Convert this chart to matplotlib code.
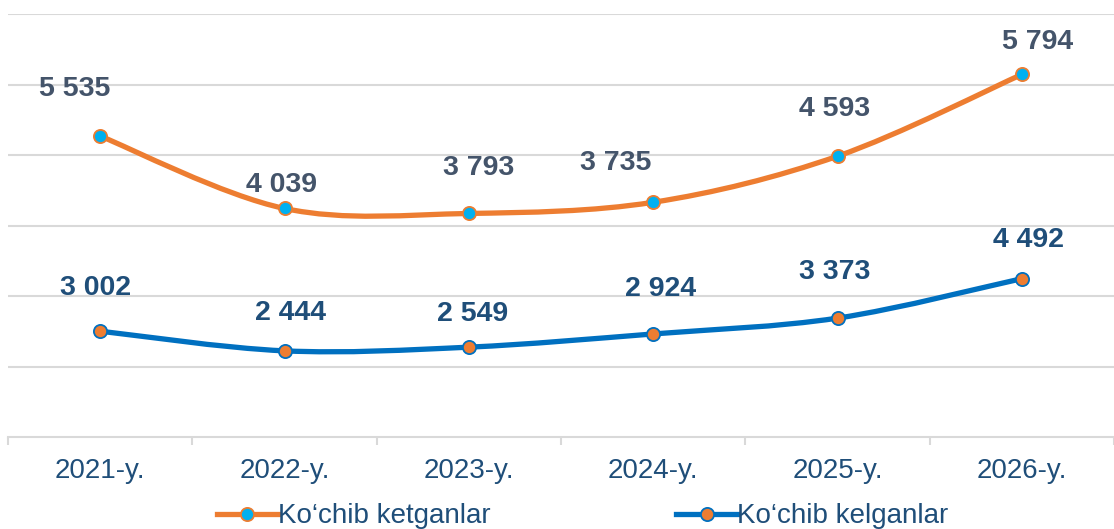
import numpy as np
import matplotlib.pyplot as plt
from matplotlib.path import Path
from matplotlib.patches import PathPatch
from matplotlib.lines import Line2D

plt.rcParams['font.family'] = ['Liberation Sans', 'DejaVu Sans']

# data
years = ['2021-y.', '2022-y.', '2023-y.', '2024-y.', '2025-y.', '2026-y.']
kelganlar = [3002, 2444, 2549, 2924, 3373, 4492]
ketganlar = [5535, 4039, 3793, 3735, 4593, 5794]
names = ['Ko\u2018chib ketganlar', 'Ko\u2018chib kelganlar']

# label offsets (points)
off_top = [(-18, 34), (-2, 17), (7, 33), (-27, 28), (-2, 34), (11, 23)]
off_bot = [(-3, 31), (4, 27), (3, 24), (5, 32), (-2, 33), (5, 28)]

orange = '#ED7D31'
blue = '#0070C0'
cyan = '#00B0F0'
grid_c = '#D9D9D9'


def smooth_path(xs, ys):
    # Excel-like smoothed line built from cubic Bezier segments
    pts = np.column_stack([xs, ys]).astype(float)
    n = len(pts)
    verts = [pts[0]]
    codes = [Path.MOVETO]
    for i in range(n - 1):
        p0 = pts[max(i - 1, 0)]
        p1 = pts[i]
        p2 = pts[i + 1]
        p3 = pts[min(i + 2, n - 1)]
        c1 = p1 + (p2 - p0) / 6
        c2 = p2 - (p3 - p1) / 6
        verts += [c1, c2, p2]
        codes += [Path.CURVE4] * 3
    return Path(verts, codes)


x = np.arange(len(years))
top = np.array(kelganlar) + np.array(ketganlar)   # stacked

fig = plt.figure(figsize=(11.14, 5.29), dpi=100)
ax = fig.add_axes([0.0072, 0.1739, 0.9928, 0.7996])
ax.set_xlim(-0.5, 5.5)
ax.set_ylim(0, 12000)

for v in range(2000, 12001, 2000):
    ax.axhline(v, color=grid_c, lw=1.5, zorder=0)

ax.add_patch(PathPatch(smooth_path(x, top), fill=False, edgecolor=orange,
                       lw=3.8, capstyle='round', zorder=3))
ax.add_patch(PathPatch(smooth_path(x, kelganlar), fill=False, edgecolor=blue,
                       lw=3.8, capstyle='round', zorder=3))
ax.plot(x, top, ls='none', marker='o', ms=9.5, mfc=cyan, mec=orange,
        mew=1.3, zorder=4)
ax.plot(x, kelganlar, ls='none', marker='o', ms=9.5, mfc=orange, mec=blue,
        mew=1.3, zorder=4)

for i in range(len(years)):
    ax.annotate(f'{ketganlar[i]:,}'.replace(',', ' '), (x[i], top[i]),
                xytext=off_top[i], textcoords='offset points', ha='center',
                va='center', fontsize=20.5, fontweight='bold', color='#44546A')
    ax.annotate(f'{kelganlar[i]:,}'.replace(',', ' '), (x[i], kelganlar[i]),
                xytext=off_bot[i], textcoords='offset points', ha='center',
                va='center', fontsize=20.5, fontweight='bold', color='#1F4E79')

for s in ['top', 'right', 'left']:
    ax.spines[s].set_visible(False)
ax.spines['bottom'].set_color(grid_c)
ax.spines['bottom'].set_linewidth(1.5)
ax.set_yticks([])
ax.set_xticks(np.arange(-0.5, 6, 1), minor=False)
ax.set_xticklabels([])
ax.set_xticks(x, minor=True)
ax.set_xticklabels(years, minor=True, fontsize=20, color='#1F4E79')
ax.tick_params(axis='x', which='major', length=6, width=1.5, color=grid_c)
ax.tick_params(axis='x', which='minor', length=0, pad=15)

handles = [
    Line2D([], [], color=orange, lw=3.8, marker='o', ms=9.5, mfc=cyan,
           mec=orange, mew=1.3),
    Line2D([], [], color=blue, lw=3.8, marker='o', ms=9.5, mfc=orange,
           mec=blue, mew=1.3),
]
leg = fig.legend(handles, names, loc='lower center', bbox_to_anchor=(0.523, -0.048),
                 ncol=2, frameon=False, fontsize=20, handlelength=2.2,
                 handletextpad=0.0, columnspacing=6.7)
for t in leg.get_texts():
    t.set_color('#1F4E79')

fig.savefig('out.png', dpi=100)
plt.close(fig)
